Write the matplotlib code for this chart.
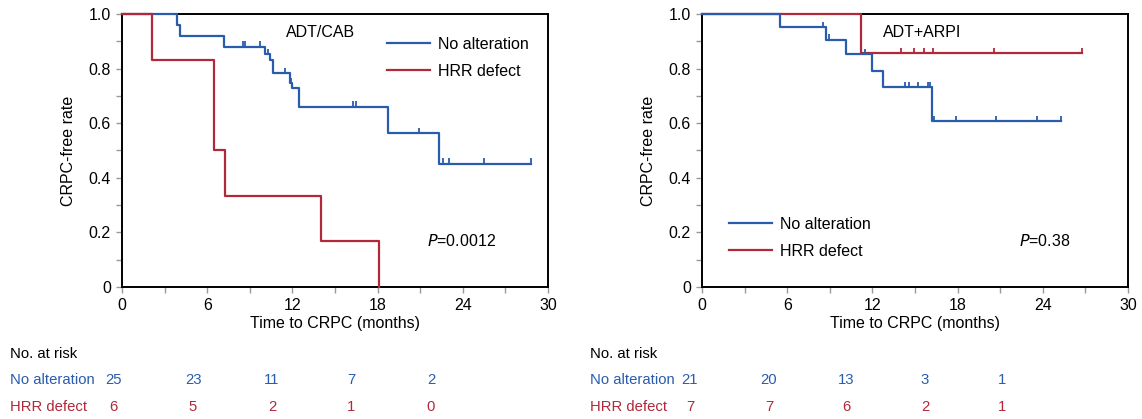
import numpy as np
import matplotlib
matplotlib.use('Agg')
import matplotlib.pyplot as plt

plt.rcParams['font.family'] = ['Liberation Sans', 'DejaVu Sans']
plt.rcParams['font.size'] = 11.5

blue = '#2a5cae'
red = '#b0283a'

# ADT/CAB panel
cab_noalt_t = [0, 3.9, 4.1, 7.2, 10.1, 10.4, 10.65, 11.8, 12.0, 12.45, 18.75, 22.3]
cab_noalt_s = [1.0, 0.96, 0.92, 0.88, 0.853, 0.832, 0.783, 0.746, 0.728, 0.66, 0.563, 0.451]
cab_noalt_end = 28.8
cab_noalt_cens = [8.5, 8.65, 9.7, 10.3, 11.5, 11.9, 16.3, 16.5, 20.95, 22.6, 23.0, 25.5, 28.8]

cab_hrr_t = [0, 2.1, 6.45, 7.25, 14.0, 18.1]
cab_hrr_s = [1.0, 0.833, 0.5, 0.333, 0.167, 0.0]
cab_hrr_end = 18.1
cab_hrr_cens = []

# ADT+ARPI panel
arpi_noalt_t = [0, 5.5, 8.7, 10.15, 11.97, 12.77, 16.2]
arpi_noalt_s = [1.0, 0.952, 0.905, 0.853, 0.79, 0.731, 0.607]
arpi_noalt_end = 25.25
arpi_noalt_cens = [8.5, 8.95, 11.48, 14.3, 14.6, 15.2, 15.9, 16.08, 16.33, 17.92, 20.7, 23.58, 25.25]

arpi_hrr_t = [0, 11.2]
arpi_hrr_s = [1.0, 0.857]
arpi_hrr_end = 26.75
arpi_hrr_cens = [14.0, 14.95, 15.66, 16.25, 20.55, 26.75]

# numbers at risk
risk_groups = ['No alteration', 'HRR defect']
cab_risk = [[25, 23, 11, 7, 2], [6, 5, 2, 1, 0]]
arpi_risk = [[21, 20, 13, 3, 1], [7, 7, 6, 2, 1]]

W, H = 1142, 419
fig = plt.figure(figsize=(W/100, H/100), dpi=100)


def km(ax, t, s, end, cens, color, label):
    tt = list(t) + [end]
    ss = list(s) + [s[-1]]
    ax.step(tt, ss, where='post', color=color, lw=1.6, label=label, clip_on=False, zorder=3)
    if cens:
        c = np.array(cens)
        idx = np.searchsorted(np.array(t), c, side='right') - 1
        lv = np.array(s)[idx]
        ax.vlines(c, lv, lv + 0.02, color=color, lw=1.3, zorder=3)


def setup(ax):
    ax.set_xlim(0, 30)
    ax.set_ylim(0, 1)
    ax.set_xticks(np.arange(0, 31, 6))
    ax.set_xticks(np.arange(0, 31, 3), minor=True)
    ax.set_yticks(np.arange(0, 1.01, 0.2))
    ax.set_yticks(np.arange(0, 1.01, 0.1), minor=True)
    ax.set_yticklabels(['0', '0.2', '0.4', '0.6', '0.8', '1.0'])
    ax.tick_params(which='both', direction='out', length=4.5, width=1, color='#999999')
    for sp in ax.spines.values():
        sp.set_linewidth(1.4)
    ax.set_xlabel('Time to CRPC (months)', labelpad=2)
    ax.set_ylabel('CRPC-free rate', labelpad=9)


def px(x, y):
    return x / W, 1 - y / H


leg_kw = dict(frameon=False, handlelength=2.7, handletextpad=0.5, borderpad=0,
              borderaxespad=0, labelspacing=0.75)

ax1 = fig.add_axes([122/W, 1 - 287/H, 426/W, 273/H])
setup(ax1)
km(ax1, cab_noalt_t, cab_noalt_s, cab_noalt_end, cab_noalt_cens, blue, 'No alteration')
km(ax1, cab_hrr_t, cab_hrr_s, cab_hrr_end, cab_hrr_cens, red, 'HRR defect')
ax1.text(0.465, 0.933, 'ADT/CAB', transform=ax1.transAxes, ha='center', va='center')
ax1.text(0.715, 0.17, '$\\it{P}$=0.0012', transform=ax1.transAxes, ha='left', va='center')
ax1.legend(loc='upper left', bbox_to_anchor=(0.622, 0.916), **leg_kw)

ax2 = fig.add_axes([702/W, 1 - 287/H, 426/W, 273/H])
setup(ax2)
km(ax2, arpi_hrr_t, arpi_hrr_s, arpi_hrr_end, arpi_hrr_cens, red, 'HRR defect')
km(ax2, arpi_noalt_t, arpi_noalt_s, arpi_noalt_end, arpi_noalt_cens, blue, 'No alteration')
ax2.text(0.425, 0.933, 'ADT+ARPI', transform=ax2.transAxes, ha='left', va='center')
ax2.text(0.745, 0.17, '$\\it{P}$=0.38', transform=ax2.transAxes, ha='left', va='center')
h, l = ax2.get_legend_handles_labels()
ax2.legend(h[::-1], l[::-1], loc='upper left', bbox_to_anchor=(0.063, 0.258), **leg_kw)

# at-risk tables
cab_x = [113, 193, 272, 351, 431]
arpi_x = [690, 769, 846, 925, 1002]
row_y = [380, 407]
cols = [blue, red]
for x0, xs, risk in [(10, cab_x, cab_risk), (590, arpi_x, arpi_risk)]:
    fig.text(*px(x0, 354), 'No. at risk', ha='left', va='center', fontsize=10.7)
    for g, name in enumerate(risk_groups):
        fig.text(*px(x0, row_y[g]), name, ha='left', va='center', color=cols[g], fontsize=10.7)
        for xi, n in zip(xs, risk[g]):
            fig.text(*px(xi, row_y[g]), str(n), ha='center', va='center', color=cols[g],
                     fontsize=10.7)

fig.savefig('out.png', dpi=100)
